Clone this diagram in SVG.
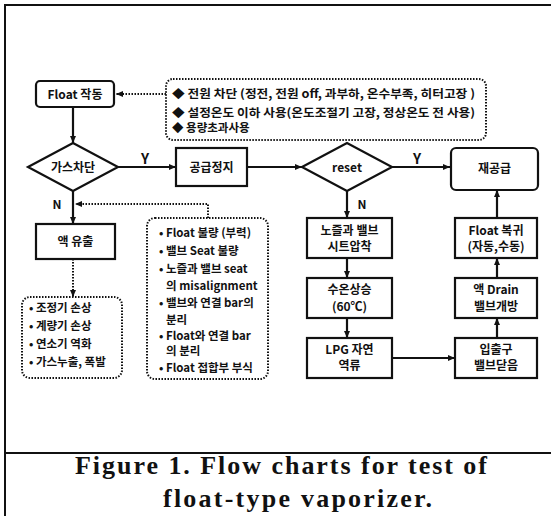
<svg xmlns="http://www.w3.org/2000/svg" width="551" height="516" viewBox="0 0 551 516">
<style>
.k{font-family:"Noto Sans CJK KR","Noto Sans",sans-serif;font-weight:bold;fill:#111;}
.c{text-anchor:middle;font-size:12px;}
.n{font-size:11.5px;}
.box{fill:#fff;stroke:#111;stroke-width:2.2;}
.dbox{fill:#fff;stroke:#111;stroke-width:2;stroke-dasharray:1.5 1.5;}
.ln{fill:none;stroke:#111;stroke-width:2.2;}
.dl{fill:none;stroke:#111;stroke-width:2;stroke-dasharray:1.5 1.5;}
.cap{font-family:"Liberation Serif",serif;font-weight:bold;font-size:26px;fill:#111;}
</style>
<defs>
<marker id="ah" markerUnits="userSpaceOnUse" markerWidth="8" markerHeight="8" refX="7" refY="4" orient="auto">
<path d="M0,1 L7,4 L0,7 Z" fill="#111"/>
</marker>
</defs>
<rect x="0" y="0" width="551" height="516" fill="#fff"/>
<g id="frame">
<path d="M5,516 V5 H551" fill="none" stroke="#111" stroke-width="2"/>
<line x1="5" y1="453" x2="551" y2="453" stroke="#111" stroke-width="2"/>
</g>
<g id="connectors">
<line class="ln" x1="73" y1="107" x2="73" y2="143" marker-end="url(#ah)"/>
<line class="dl" x1="166" y1="94" x2="116" y2="94" marker-end="url(#ah)"/>
<line class="ln" x1="118" y1="167" x2="176" y2="167" marker-end="url(#ah)"/>
<line class="ln" x1="247" y1="167" x2="302" y2="167" marker-end="url(#ah)"/>
<line class="ln" x1="392" y1="167" x2="450" y2="167" marker-end="url(#ah)"/>
<line class="ln" x1="73" y1="191" x2="73" y2="224" marker-end="url(#ah)"/>
<path class="dl" d="M208,218 V204 H75" marker-end="url(#ah)"/>
<line class="dl" x1="73" y1="259" x2="73" y2="297" marker-end="url(#ah)"/>
<line class="ln" x1="347" y1="191" x2="347" y2="218" marker-end="url(#ah)"/>
<line class="ln" x1="347" y1="258" x2="347" y2="278" marker-end="url(#ah)"/>
<line class="ln" x1="347" y1="318" x2="347" y2="338" marker-end="url(#ah)"/>
<line class="ln" x1="392" y1="358" x2="455" y2="358" marker-end="url(#ah)"/>
<line class="ln" x1="497" y1="338" x2="497" y2="318" marker-end="url(#ah)"/>
<line class="ln" x1="497" y1="278" x2="497" y2="258" marker-end="url(#ah)"/>
<line class="ln" x1="497" y1="218" x2="497" y2="190" marker-end="url(#ah)"/>
<text class="k" x="145" y="164" font-size="14" text-anchor="middle">Y</text>
<text class="k" x="417" y="164" font-size="14" text-anchor="middle">Y</text>
<text class="k" x="57" y="209" font-size="12" text-anchor="middle">N</text>
<text class="k" x="362" y="209" font-size="12" text-anchor="middle">N</text>
</g>
<g id="float-start">
<rect class="box" x="36" y="81" width="78" height="26" rx="4"/>
<text class="k c" x="75" y="98.5" font-size="12.5">Float 작동</text>
</g>
<g id="causes-note">
<rect class="dbox" x="166" y="79" width="320" height="61" rx="7"/>
<text class="k n" x="172" y="98" textLength="303" lengthAdjust="spacingAndGlyphs">◆ 전원 차단 (정전, 전원 off, 과부하, 온수부족, 히터고장 )</text>
<text class="k n" x="172" y="117" textLength="303" lengthAdjust="spacingAndGlyphs">◆ 설정온도 이하 사용(온도조절기 고장, 정상온도 전 사용)</text>
<text class="k n" x="172" y="132">◆ 용량초과사용</text>
</g>
<g id="gas-cutoff">
<polygon class="box" points="28,167 73,143 118,167 73,191"/>
<text class="k c" x="73" y="171.5">가스차단</text>
</g>
<g id="supply-stop">
<rect class="box" x="176" y="148" width="71" height="38"/>
<text class="k c" x="211.5" y="171.5">공급정지</text>
</g>
<g id="reset">
<polygon class="box" points="302,167 347,143 392,167 347,191"/>
<text class="k c" x="347" y="171.5">reset</text>
</g>
<g id="resupply">
<rect class="box" x="451" y="148" width="87" height="42" rx="5"/>
<text class="k c" x="494.5" y="173">재공급</text>
</g>
<g id="leak">
<rect class="box" x="36" y="224" width="79" height="35" stroke-width="2.6"/>
<text class="k c" x="75.5" y="246">액 유출</text>
</g>
<g id="leak-effects">
<rect class="dbox" x="22" y="297" width="100" height="81" rx="8"/>
<text class="k n" x="29" y="312">• 조정기 손상</text>
<text class="k n" x="29" y="330">• 계량기 손상</text>
<text class="k n" x="29" y="348">• 연소기 역화</text>
<text class="k n" x="29" y="366">• 가스누출, 폭발</text>
</g>
<g id="leak-causes">
<rect class="dbox" x="147" y="218" width="121" height="161" rx="8"/>
<text class="k n" x="159" y="237">• Float 불량 (부력)</text>
<text class="k n" x="159" y="255">• 밸브 Seat 불량</text>
<text class="k n" x="159" y="273">• 노즐과 밸브 seat</text>
<text class="k n" x="166" y="290">의 misalignment</text>
<text class="k n" x="159" y="307">• 밸브와 연결 bar의</text>
<text class="k n" x="166" y="324">분리</text>
<text class="k n" x="159" y="340">• Float와 연결 bar</text>
<text class="k n" x="166" y="355">의 분리</text>
<text class="k n" x="159" y="372">• Float 접합부 부식</text>
</g>
<g id="nozzle-seat">
<rect class="box" x="307" y="218" width="85" height="40"/>
<text class="k c" x="349.5" y="235">노즐과 밸브</text>
<text class="k c" x="349.5" y="251">시트압착</text>
</g>
<g id="water-temp">
<rect class="box" x="307" y="278" width="85" height="40"/>
<text class="k c" x="349.5" y="294">수온상승</text>
<text class="k c" x="349.5" y="311">(60℃)</text>
</g>
<g id="lpg-backflow">
<rect class="box" x="307" y="338" width="85" height="40"/>
<text class="k c" x="349.5" y="354">LPG 자연</text>
<text class="k c" x="349.5" y="370">역류</text>
</g>
<g id="valve-close">
<rect class="box" x="455" y="338" width="82" height="40"/>
<text class="k c" x="496" y="354">입출구</text>
<text class="k c" x="496" y="370">밸브닫음</text>
</g>
<g id="drain-open">
<rect class="box" x="455" y="278" width="82" height="40"/>
<text class="k c" x="496" y="294">액 Drain</text>
<text class="k c" x="496" y="311">밸브개방</text>
</g>
<g id="float-return">
<rect class="box" x="455" y="218" width="82" height="40"/>
<text class="k c" x="496" y="235">Float 복귀</text>
<text class="k c" x="496" y="251">(자동,수동)</text>
</g>
<g id="caption">
<text class="cap" x="75" y="474" textLength="412" lengthAdjust="spacing">Figure 1. Flow charts for test of</text>
<text class="cap" x="163" y="507" textLength="269" lengthAdjust="spacing">float-type vaporizer.</text>
</g>
</svg>
